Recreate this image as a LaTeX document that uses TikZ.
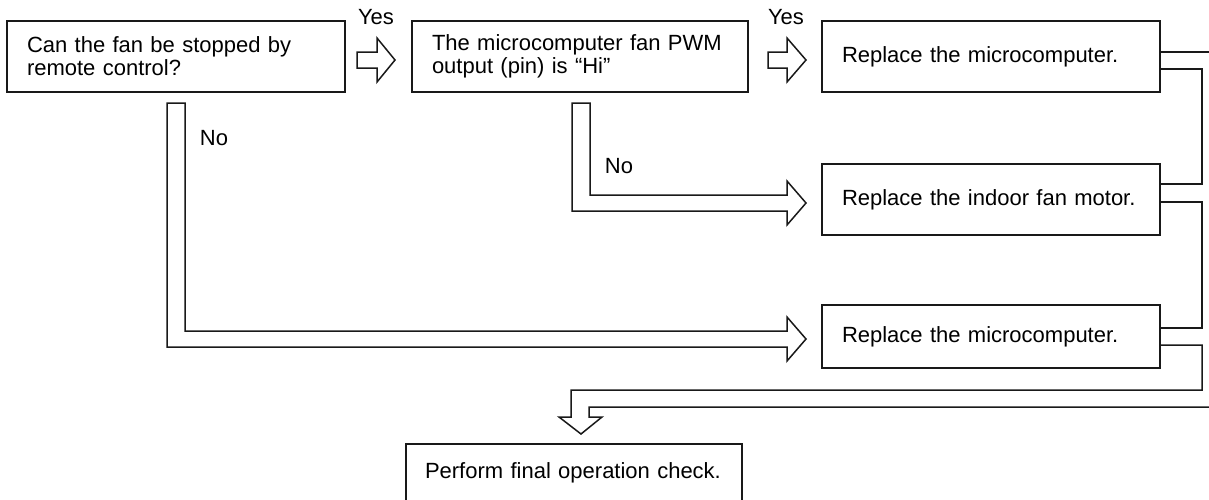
\documentclass[tikz,border=0pt]{standalone}
\usepackage{fontspec}
\setmainfont{Liberation Sans}
\begin{document}
\begin{tikzpicture}[x=0.5pt,y=-0.5pt,
  ln/.style={line width=0.75pt,draw=black!90,line join=miter},
  box/.style={draw=black!90,line width=0.75pt,outer sep=0pt,inner xsep=10pt,inner ysep=0pt,
     align=left,font=\fontsize{11pt}{11.5pt}\selectfont},
  lbl/.style={inner sep=0pt,font=\fontsize{11pt}{11.5pt}\selectfont}]
\useasboundingbox (0,0) rectangle (1209,499);
% boxes
\node[box,text width=149pt,minimum height=35.5pt] (b1) at (176,56.5) {Can the fan be stopped by\\remote control?};
\node[box,text width=148pt,minimum height=35.5pt] (b2) at (580,56.5) {The microcomputer fan PWM\\output (pin) is “Hi”};
\node[box,text width=149pt,minimum height=35.5pt] (b3) at (991,56.5) {Replace the microcomputer.};
\node[box,text width=149pt,minimum height=35.5pt] (b4) at (991,199.5) {Replace the indoor fan motor.};
\node[box,text width=149pt,minimum height=31.5pt] (b5) at (991,336.5) {Replace the microcomputer.};
\node[box,inner xsep=9.5pt,text width=149pt,minimum height=29pt] (b6) at (574,473) {Perform final operation check.};
% labels
\node[lbl] (y1) at (376,17) {Yes};
\node[lbl] (y2) at (786,17) {Yes};
\node[lbl] (n1) at (214,138) {No};
\node[lbl] (n2) at (619,166) {No};
% hollow arrows
\draw[ln] (357,52) -- (377,52) -- (377,38) -- (395,60) -- (377,82) -- (377,68) -- (357,68) -- cycle;
\draw[ln] (768,52) -- (787,52) -- (787,38) -- (806,60) -- (787,82) -- (787,68) -- (768,68) -- cycle;
\draw[ln] (572,103) -- (590,103) -- (590,195) -- (787,195) -- (787,181) -- (806,203) -- (787,225) -- (787,211) -- (572,211) -- cycle;
\draw[ln] (167,103) -- (185,103) -- (185,331) -- (787,331) -- (787,317) -- (806,339) -- (787,361) -- (787,347) -- (167,347) -- cycle;
% right-hand merging connector
\draw[ln] (b3.east |- 0,52) -- (1215,52);
\draw[ln] (b3.east |- 0,69) -- (1202,69) -- (1202,184) -- (b4.east |- 0,184);
\draw[ln] (b4.east |- 0,202) -- (1202,202) -- (1202,328) -- (b5.east |- 0,328);
\draw[ln] (b5.east |- 0,345) -- (1202,345) -- (1202,390) -- (571,390) -- (571,417) -- (559,417) -- (581,434) -- (602,417) -- (589,417) -- (589,407) -- (1215,407);
\end{tikzpicture}
\end{document}
